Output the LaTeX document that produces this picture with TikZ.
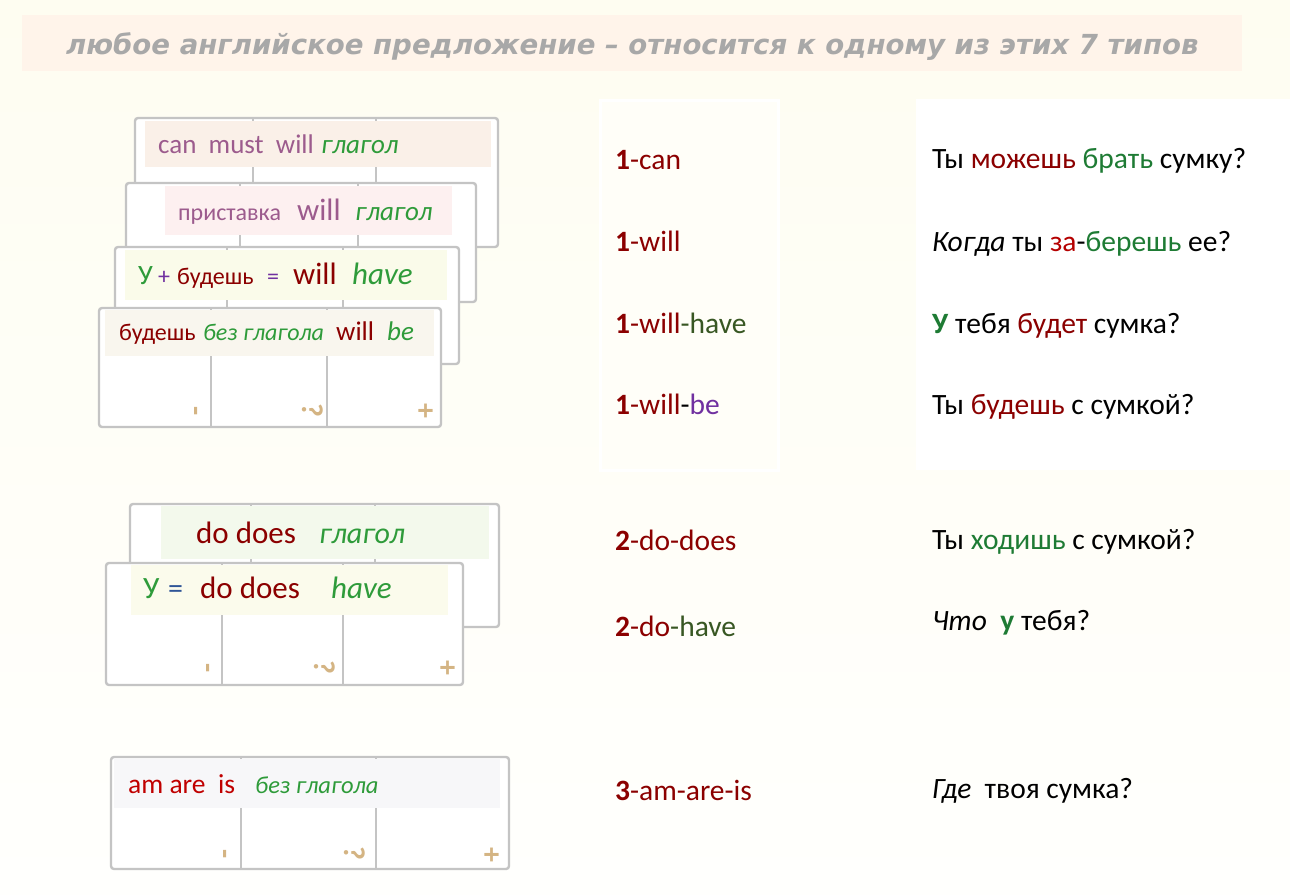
\documentclass[tikz,border=0pt]{standalone}
\usepackage{fontspec}
\setmainfont{Carlito}
\newfontfamily\titlefont{DejaVu Sans}
\definecolor{bgtop}{HTML}{FEFDF1}
\definecolor{bgbot}{HTML}{FFFFFD}
\definecolor{banner}{HTML}{FFF4EA}
\definecolor{titlegray}{HTML}{A8A8A8}
\definecolor{cardgray}{HTML}{C4C4C4}
\definecolor{mauve}{HTML}{9C5B8D}
\definecolor{cgreen}{HTML}{2E9B3A}
\definecolor{rgreen}{HTML}{1E7B34}
\definecolor{hgreen}{HTML}{385723}
\definecolor{dred}{HTML}{8B0000}
\definecolor{bred}{HTML}{C00000}
\definecolor{cpurple}{HTML}{7030A0}
\definecolor{cblue}{HTML}{2F5597}
\definecolor{tan}{HTML}{D4B483}
\definecolor{hdrA}{HTML}{FAF0E8}
\definecolor{hdrB}{HTML}{FDF0F0}
\definecolor{hdrC}{HTML}{FAFBEA}
\definecolor{hdrD}{HTML}{F9F6EE}
\definecolor{hdrE}{HTML}{F3F9EC}
\definecolor{hdrF}{HTML}{FBFBEC}
\definecolor{hdrG}{HTML}{F7F7F9}
\definecolor{midpanel}{HTML}{FFFEF8}
\begin{document}
\begin{tikzpicture}[x=1pt,y=-1pt,
  fs/.style={font=\fontsize{#1}{#1}\selectfont},
  fsi/.style={font=\fontsize{#1}{#1}\selectfont\itshape},
  w/.style={anchor=base west, inner sep=0pt},
  cardbox/.style={draw=cardgray, line width=2.4pt, rounded corners=3pt, fill=white},
  divider/.style={draw=cardgray, line width=2.4pt},
  sym/.style={text=tan, inner sep=0pt, rotate=-90, font=\fontsize{30}{30}\selectfont\bfseries}]
\useasboundingbox (0,0) rectangle (1290,894);
\shade[top color=bgtop, bottom color=bgbot] (0,0) rectangle (1290,894);
\fill[white] (916,99) rectangle (1290,470);
% title
\fill[banner] (22,15) rectangle (1242,71);
\node[w, text=titlegray, font=\titlefont\fontsize{27.6}{28}\selectfont\bfseries\itshape] (title) at (66,54) {любое английское предложение – относится к одному из этих 7 типов};
% middle panel
\draw[white, line width=3pt, fill=midpanel] (600,100) rectangle (778,470);

% ---- Card A
\draw[cardbox] (135,118) rectangle (498,247);
\draw[divider] (253,118) -- (253,247);
\draw[divider] (376,118) -- (376,247);
\fill[hdrA] (145,121) rectangle (491,167);
\node[w, fs=27, text=mauve] (a1) at (158,153) {can\ \ must\ \ will};
\node[w, fsi=27, text=cgreen] (a2) at (321,153) {глагол};
% ---- Card B
\draw[cardbox] (126,183) rectangle (476,302);
\draw[divider] (240,183) -- (240,302);
\draw[divider] (358,183) -- (358,302);
\fill[hdrB] (165,186) rectangle (452,235);
\node[w, fs=24, text=mauve] (b1) at (178,220) {приставка};
\node[w, fs=31, text=mauve] (b2) at (297,220) {will};
\node[w, fsi=27, text=cgreen] (b3) at (355,220) {глагол};
% ---- Card C
\draw[cardbox] (115,247) rectangle (459,364);
\draw[divider] (227,247) -- (227,364);
\draw[divider] (343,247) -- (343,364);
\fill[hdrC] (125,250) rectangle (447,300);
\node[w, fs=28, text=cgreen] (c1) at (138,284) {У};
\node[w, fs=24, text=cpurple] (c2) at (158,284) {+};
\node[w, fs=24, text=dred] (c3) at (177,284) {будешь};
\node[w, fs=24, text=cpurple] (c4) at (267,284) {=};
\node[w, fs=31, text=dred] (c5) at (293,284) {will};
\node[w, fsi=31, text=cgreen] (c6) at (352,284) {have};
% ---- Card D
\draw[cardbox] (99,308) rectangle (441,427);
\draw[divider] (211,308) -- (211,427);
\draw[divider] (327,308) -- (327,427);
\fill[hdrD] (105,310) rectangle (434,356);
\node[w, fs=24, text=dred] (d1) at (119,340) {будешь};
\node[w, fsi=24, text=cgreen] (d2) at (203,340) {без глагола};
\node[w, fs=27, text=dred] (d3) at (336,340) {will};
\node[w, fsi=27, text=cgreen] (d4) at (387,340) {be};
\node[sym] (dm) at (193,411) {-};
\node[sym] (dq) at (313,410) {?};
\node[sym] (dp) at (425,411) {+};
% ---- Card E
\draw[cardbox] (130,504) rectangle (499,627);
\draw[divider] (251,504) -- (251,627);
\draw[divider] (375,504) -- (375,627);
\fill[hdrE] (161,506) rectangle (489,559);
\node[w, fs=31, text=dred] (e1) at (196,543) {do does};
\node[w, fsi=30, text=cgreen] (e2) at (319,543) {глагол};
% ---- Card F
\draw[cardbox] (106,563) rectangle (463,685);
\draw[divider] (222,563) -- (222,685);
\draw[divider] (343,563) -- (343,685);
\fill[hdrF] (131,565) rectangle (448,615);
\node[w, fs=31, text=cgreen] (f1) at (143,598) {У};
\node[w, fs=30, text=cblue] (f2) at (168,598) {=};
\node[w, fs=31, text=dred] (f3) at (200,598) {do does};
\node[w, fsi=31, text=cgreen] (f4) at (331,598) {have};
\node[sym] (fm) at (205,668) {-};
\node[sym] (fq) at (325,667) {?};
\node[sym] (fp) at (447,668) {+};
% ---- Card G
\draw[cardbox] (111,757) rectangle (509,869);
\draw[divider] (241,757) -- (241,869);
\draw[divider] (376,757) -- (376,869);
\fill[hdrG] (114,759) rectangle (500,808);
\node[w, fs=27.5, text=bred] (g1) at (128,793) {am are\ \ is};
\node[w, fsi=24.5, text=cgreen] (g2) at (255,793) {без глагола};
\node[sym] (gm) at (222,854) {-};
\node[sym] (gq) at (355,853) {?};
\node[sym] (gp) at (491,855) {+};

% ---- middle column
\begin{scope}[every node/.style={w, fs=29.5, text=dred}]
\node (m1) at (615,169) {\textbf{1}-can};
\node (m2) at (615,251) {\textbf{1}-will};
\node (m3) at (615,333) {\textbf{1}-will\textcolor{hgreen}{-have}};
\node (m4) at (615,414) {\textbf{1}-will\textcolor{black}{-}\textcolor{cpurple}{be}};
\node (m5) at (615,550) {\textbf{2}-do-does};
\node (m6) at (615,636) {\textbf{2}-do\textcolor{hgreen}{-have}};
\node (m7) at (615,800) {\textbf{3}-am-are-is};
\end{scope}

% ---- right column
\begin{scope}[every node/.style={w, fs=29.5, text=black}]
\node (r1) at (932,168) {Ты \textcolor{dred}{можешь} \textcolor{rgreen}{брать} сумку?};
\node (r2) at (932,251) {\textit{Когда} ты \textcolor{bred!80!dred}{за}-\textcolor{rgreen}{берешь} ее?};
\node (r3) at (932,333) {\textcolor{rgreen}{\textbf{У}} тебя \textcolor{dred}{будет} сумка?};
\node (r4) at (932,414) {Ты \textcolor{dred}{будешь} с сумкой?};
\node (r5) at (932,549) {Ты \textcolor{rgreen}{ходишь} с сумкой?};
\node (r6) at (932,630) {\textit{Что}\ \ \textcolor{rgreen}{\textbf{у}} тебя?};
\node (r7) at (932,798) {\textit{Где}\ \ твоя сумка?};
\end{scope}
\end{tikzpicture}
\end{document}
